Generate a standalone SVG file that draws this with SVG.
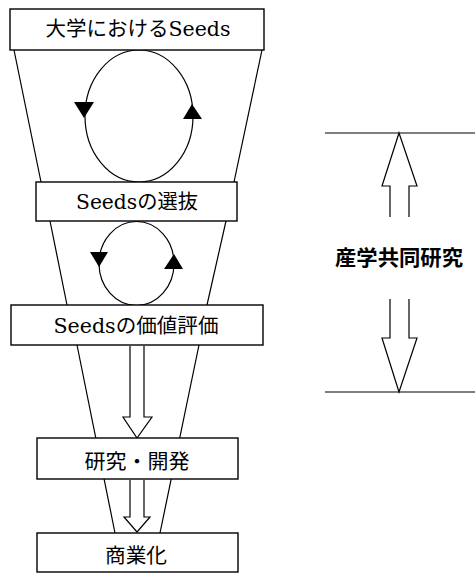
<svg xmlns="http://www.w3.org/2000/svg" width="475" height="573" viewBox="0 0 475 573">
<style>
.box{fill:#fff;stroke:#000;stroke-width:1.4}
.ln{fill:none;stroke:#000;stroke-width:1.2}
.hollow{fill:#fff;stroke:#000;stroke-width:1.2;stroke-linejoin:miter}
.tri{fill:#000;stroke:none}
.t{font-family:"Noto Sans CJK JP","Noto Sans",sans-serif;font-size:20px;font-weight:normal;fill:#000;text-anchor:middle}
.s{font-family:"DejaVu Serif","Liberation Serif",serif}
.lbl{font-family:"Noto Sans CJK JP","Noto Sans",sans-serif;font-size:21px;font-weight:bold;fill:#000}
</style>
<rect width="475" height="573" fill="#fff"/>
<g id="connectors">
  <path class="ln" d="M14,50 L41,182 M262,50 L234,182"/>
  <path class="ln" d="M50,221 L67,305 M226,221 L207,305"/>
  <path class="ln" d="M77,345 L115,533 M199,345 L160,533"/>
  <ellipse class="ln" cx="139" cy="116" rx="54" ry="66"/>
  <polygon class="tri" points="74,102 94,102 84,118"/>
  <polygon class="tri" points="183,119 202,119 192,104"/>
  <ellipse class="ln" cx="136.5" cy="263.5" rx="37.5" ry="42"/>
  <polygon class="tri" points="90,252 108,252 99,267"/>
  <polygon class="tri" points="164,269 183,269 174,254"/>
  <path class="hollow" d="M130,346 V417 H123 L137,438 L152,417 H144 V346"/>
  <path class="hollow" d="M130,480 V517 H124 L137,532 L150,517 H144 V480"/>
  <path class="ln" d="M325,133 H475 M325,392 H475"/>
  <path class="hollow" d="M390,217 V186 H382 L399,133 L417,186 H409 V217"/>
  <path class="hollow" d="M390,299 V338 H382 L399,392 L417,338 H409 V299"/>
</g>
<g id="n1">
  <rect class="box" x="10" y="9" width="254" height="41"/>
  <text class="t" x="138" y="36" textLength="185" lengthAdjust="spacingAndGlyphs">大学における<tspan class="s">Seeds</tspan></text>
</g>
<g id="n2">
  <rect class="box" x="36" y="182" width="201" height="39"/>
  <text class="t" x="137" y="209" textLength="122" lengthAdjust="spacingAndGlyphs"><tspan class="s">Seeds</tspan>の選抜</text>
</g>
<g id="n3">
  <rect class="box" x="11" y="305" width="252" height="40"/>
  <text class="t" x="136" y="333" textLength="165" lengthAdjust="spacingAndGlyphs"><tspan class="s">Seeds</tspan>の価値評価</text>
</g>
<g id="n4">
  <rect class="box" x="37" y="438" width="201" height="41"/>
  <text class="t" x="137" y="469" textLength="105" lengthAdjust="spacingAndGlyphs">研究・開発</text>
</g>
<g id="n5">
  <rect class="box" x="37" y="533" width="201" height="39"/>
  <text class="t" x="136" y="563" textLength="62" lengthAdjust="spacingAndGlyphs">商業化</text>
</g>
<g id="n6">
  <text class="lbl" x="335" y="265" textLength="128" lengthAdjust="spacingAndGlyphs">産学共同研究</text>
</g>
</svg>
